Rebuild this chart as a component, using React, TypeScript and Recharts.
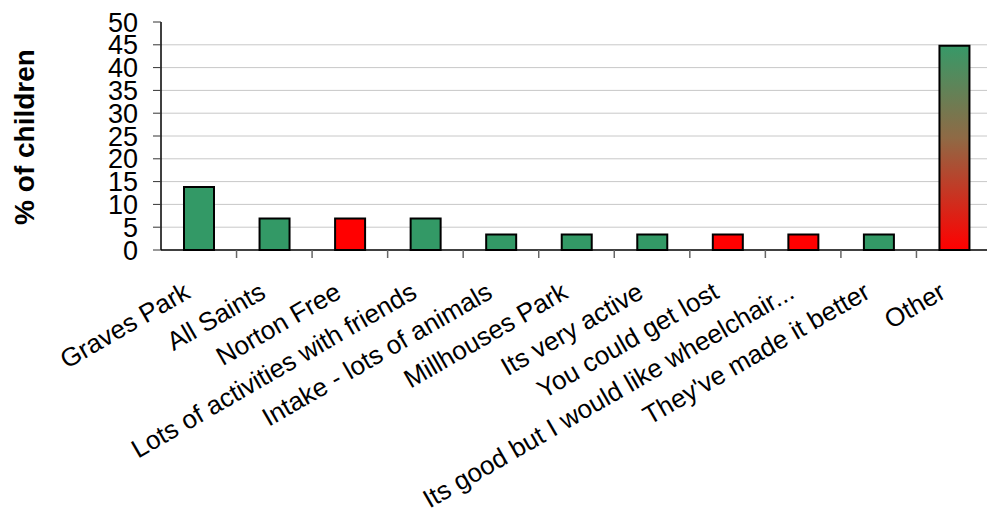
import { BarChart, Bar, XAxis, YAxis, CartesianGrid, Cell } from 'recharts';

const categories = [
  'Graves Park',
  'All Saints',
  'Norton Free',
  'Lots of activities with friends',
  'Intake - lots of animals',
  'Millhouses Park',
  'Its very active',
  'You could get lost',
  'Its good but I would like wheelchair...',
  "They've made it better",
  'Other'
];
const percentages = [13.8, 6.9, 6.9, 6.9, 3.4, 3.4, 3.4, 3.4, 3.4, 3.4, 44.8];
const tone = ['good', 'good', 'bad', 'good', 'good', 'good', 'good', 'bad', 'bad', 'good', 'mixed'];
const yTicks = [0, 5, 10, 15, 20, 25, 30, 35, 40, 45, 50];

const data = categories.map((name, i) => ({ name, value: percentages[i], tone: tone[i] }));

const W = 995;
const H = 516;
const LEFT = 161;
const RIGHT = 3;
const TOP = 22;
const AXIS_Y = 250;
const BAND = (W - LEFT - RIGHT) / categories.length;
const FONT = 'Liberation Sans, Arial, sans-serif';

const fillFor = (t: string) => (t === 'good' ? '#339966' : t === 'bad' ? '#ff0000' : 'url(#otherGrad)');

function XTick(props: any) {
  const { x, payload, index } = props;
  const ax = x - 7;
  const ay = AXIS_Y + 47;
  return (
    <g>
      {index > 0 && (
        <line x1={x - BAND / 2} x2={x - BAND / 2} y1={AXIS_Y} y2={AXIS_Y + 8} stroke="#666" strokeWidth={1.5} />
      )}
      <text
        x={ax}
        y={ay}
        transform={`rotate(-30, ${ax}, ${ay})`}
        textAnchor="end"
        fontFamily={FONT}
        fontSize={26}
        fill="#000"
      >
        {payload.value}
      </text>
    </g>
  );
}

// y axis title, drawn rotated at the left edge
const yTitle = () => (
  <text
    x={34}
    y={137}
    transform="rotate(-90, 34, 137)"
    textAnchor="middle"
    fontFamily={FONT}
    fontSize={28}
    fontWeight="bold"
    fill="#000"
  >
    % of children
  </text>
);

export default function App() {
  return (
    <div style={{ position: 'absolute', left: 0, top: 0, width: 987, height: 516, overflow: 'hidden', background: '#fff' }}>
      <BarChart
        width={W}
        height={H}
        data={data}
        margin={{ top: TOP, right: RIGHT, left: 0, bottom: 0 }}
        barSize={30}
      >
        <defs>
          <linearGradient id="otherGrad" x1="0" y1="0" x2="0" y2="1">
            <stop offset="0%" stopColor="#379968" />
            <stop offset="45%" stopColor="#8f6a45" />
            <stop offset="100%" stopColor="#ff0000" />
          </linearGradient>
        </defs>
        <CartesianGrid vertical={false} stroke="#c8c8c8" horizontalValues={[5, 10, 15, 20, 25, 30, 35, 40, 45]} />
        <XAxis
          dataKey="name"
          interval={0}
          tickLine={false}
          axisLine={{ stroke: '#000', strokeWidth: 1.5 }}
          tick={<XTick />}
          height={H - AXIS_Y}
        />
        <YAxis
          width={LEFT}
          domain={[0, 50]}
          ticks={yTicks}
          interval={0}
          tickSize={8}
          tickMargin={15}
          axisLine={{ stroke: '#000', strokeWidth: 1.5 }}
          tickLine={{ stroke: '#333' }}
          tick={{ fill: '#000', fontSize: 27, fontFamily: FONT }}
          label={{ content: yTitle }}
        />
        <Bar dataKey="value" stroke="#000" strokeWidth={2} isAnimationActive={false}>
          {data.map((d, i) => (
            <Cell key={i} fill={fillFor(d.tone)} />
          ))}
        </Bar>
      </BarChart>
    </div>
  );
}
